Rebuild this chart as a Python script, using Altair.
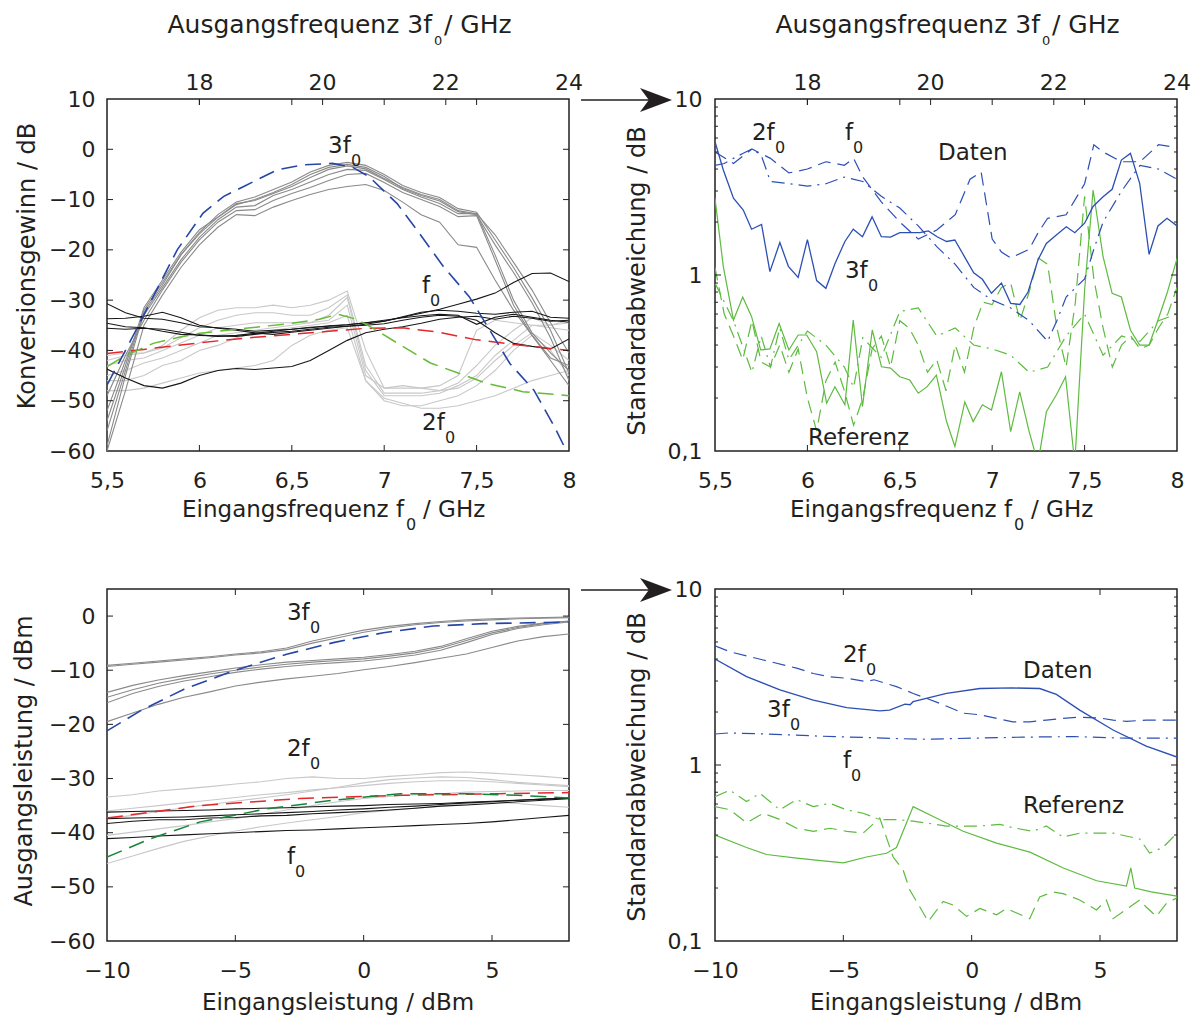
import altair as alt
import pandas as pd

FONT = "DejaVu Sans"
INK = "#231f20"
BLUE = "#2646a6"
BLUE_R = "#2c4fb4"
RED = "#e5262b"
GREEN = "#66bb38"
GREEN_R = "#5dbb3f"
DKGREEN = "#17843b"
MIDGRAY = "#8a8a8a"
LTGRAY = "#c8c8c8"
BLACK = "#161616"

W, H = 462, 352

# ---------------- axis ticks ----------------
f0_ticks = [5.5, 6, 6.5, 7, 7.5, 8]
f3_ticks = [18, 20, 22, 24]
gain_ticks = [-60, -50, -40, -30, -20, -10, 0, 10]
pin_ticks = [-10, -5, 0, 5]
pout_ticks = [-60, -50, -40, -30, -20, -10, 0]
std_major = [0.1, 1, 10]
std_minor = [0.2, 0.3, 0.4, 0.5, 0.6, 0.7, 0.8, 0.9, 2, 3, 4, 5, 6, 7, 8, 9]

# ---------------- conversion gain vs. input frequency ----------------
f_grid = [5.5, 5.6, 5.7, 5.8, 5.9, 6.0, 6.1, 6.2, 6.3, 6.4, 6.5, 6.6, 6.7,
          6.8, 6.9, 7.0, 7.1, 7.2, 7.3, 7.4, 7.5, 7.6, 7.7, 7.8, 7.9, 8.0]

gain_3f0_meas = [
    [-59.0, -45.0, -32.5, -27.0, -21.0, -16.5, -13.0, -10.5, -9.5, -8.0, -6.5, -4.5, -3.2,
     -2.6, -3.2, -5.0, -7.2, -8.6, -9.6, -11.8, -12.5, -18.0, -23.5, -29.5, -36.0, -44.5],
    [-56.0, -44.0, -32.0, -26.5, -21.0, -16.8, -13.5, -11.0, -10.0, -8.6, -7.0, -5.0, -3.6,
     -3.0, -3.6, -5.4, -7.8, -9.2, -10.3, -12.4, -13.0, -19.0, -24.5, -30.5, -37.5, -46.0],
    [-52.0, -42.0, -33.0, -27.5, -22.0, -17.5, -14.0, -11.5, -11.2, -9.2, -8.0, -6.5, -5.0,
     -4.0, -4.2, -6.0, -8.0, -9.5, -10.8, -12.8, -12.8, -21.0, -30.0, -36.5, -40.5, -44.0],
    [-49.0, -41.0, -34.0, -28.0, -22.5, -18.0, -14.5, -12.2, -12.0, -10.2, -8.8, -7.6, -6.2,
     -5.0, -4.8, -6.6, -8.6, -10.0, -11.4, -13.4, -13.2, -22.0, -31.0, -37.0, -41.5, -43.0],
    [-60.0, -48.0, -35.0, -29.0, -23.5, -19.0, -15.5, -13.0, -13.2, -11.5, -10.2, -9.0, -8.0,
     -7.4, -7.0, -8.2, -10.5, -13.0, -14.5, -19.0, -19.5, -26.0, -32.0, -37.0, -42.0, -47.0],
    [-54.0, -43.0, -31.5, -26.0, -20.5, -16.0, -13.5, -10.8, -10.2, -8.8, -7.4, -5.6, -4.0,
     -3.3, -3.9, -5.8, -7.6, -9.0, -10.0, -12.2, -12.8, -17.0, -22.5, -28.0, -34.5, -40.5],
]

gain_2f0_meas = [
    [-41.0, -40.5, -40.5, -39.0, -36.0, -33.5, -32.0, -31.5, -31.5, -31.0, -31.5, -31.0, -30.0,
     -28.2, -40.0, -47.5, -47.5, -47.5, -47.0, -45.0, -36.0, -34.0, -34.5, -35.0, -35.0, -34.0],
    [-42.0, -41.0, -40.5, -39.5, -37.5, -35.5, -34.0, -33.0, -32.5, -32.5, -33.0, -33.0, -31.5,
     -29.0, -43.0, -48.5, -48.5, -48.5, -48.0, -46.5, -43.0, -39.0, -36.0, -33.5, -35.0, -34.5],
    [-43.0, -42.0, -41.5, -40.0, -38.5, -37.0, -35.5, -35.0, -34.5, -34.5, -34.5, -34.5, -33.0,
     -29.5, -44.0, -49.0, -49.0, -49.0, -48.5, -47.0, -45.0, -41.0, -38.0, -35.0, -35.5, -36.0],
    [-45.0, -44.0, -42.5, -41.5, -40.0, -38.5, -37.0, -36.5, -36.0, -35.5, -35.0, -34.5, -34.0,
     -31.0, -45.0, -47.5, -47.0, -47.5, -48.0, -47.5, -45.5, -42.0, -39.0, -36.5, -39.0, -42.0],
    [-48.0, -48.0, -47.5, -46.5, -45.5, -44.5, -44.0, -43.5, -43.0, -42.0, -39.0, -37.0, -36.0,
     -35.5, -46.0, -49.5, -50.5, -51.5, -51.5, -51.0, -50.0, -49.0, -47.5, -46.0, -45.0, -44.0],
    [-46.0, -46.0, -45.0, -43.0, -42.0, -40.0, -39.0, -37.5, -36.5, -36.0, -35.5, -35.0, -34.5,
     -33.0, -46.0, -50.0, -51.0, -51.0, -50.0, -49.0, -47.0, -44.0, -40.0, -37.0, -40.0, -45.0],
]

gain_f0_meas = [
    [-30.7, -32.5, -33.6, -33.8, -34.5, -35.3, -35.5, -35.8, -36.2, -36.0, -35.8, -35.4, -35.2,
     -34.9, -34.5, -34.2, -33.3, -32.4, -32.0, -32.2, -32.6, -32.8, -32.4, -32.2, -33.4, -33.6],
    [-33.7, -33.6, -33.2, -32.4, -33.5, -35.0, -35.6, -36.0, -36.5, -36.8, -36.4, -36.0, -35.6,
     -35.2, -34.8, -34.2, -33.4, -32.6, -31.8, -30.8, -29.8, -28.6, -26.5, -24.7, -24.6, -26.3],
    [-35.6, -35.8, -35.6, -35.8, -36.4, -37.0, -37.1, -37.2, -36.8, -36.4, -36.2, -35.8, -35.4,
     -35.2, -35.0, -34.7, -34.0, -33.4, -33.0, -33.2, -34.0, -36.5, -38.6, -39.2, -39.7, -37.7],
    [-34.6, -35.3, -35.5, -36.2, -36.8, -36.9, -37.2, -37.0, -36.6, -36.2, -35.8, -35.5, -35.1,
     -34.9, -34.5, -34.0, -33.5, -33.1, -32.8, -33.0, -34.8, -33.4, -32.8, -33.4, -34.0, -34.4],
    [-43.7, -45.5, -47.0, -47.5, -46.5, -45.0, -44.0, -43.6, -43.8, -43.5, -43.2, -42.0, -40.0,
     -38.0, -36.5, -35.8, -35.3, -34.6, -33.8, -33.4, -33.2, -33.8, -33.2, -33.6, -34.2, -34.0],
]

model_3f0_gain = [(5.5, -46.9), (5.62, -38.6), (5.75, -29.3), (5.88, -20.0), (6.02, -12.7),
                  (6.13, -9.4), (6.24, -7.4), (6.42, -4.1), (6.56, -3.1), (6.72, -2.8),
                  (6.83, -3.6), (6.92, -5.5), (7.07, -10.8), (7.19, -16.7), (7.32, -23.3),
                  (7.46, -29.3), (7.57, -35.9), (7.68, -42.6), (7.81, -47.9), (7.92, -55.1),
                  (8.0, -61.0)]
model_f0_gain = [(5.5, -40.6), (5.7, -39.8), (5.9, -38.9), (6.1, -38.1), (6.3, -37.4),
                 (6.5, -36.8), (6.7, -36.2), (6.9, -35.6), (7.1, -35.5), (7.3, -36.4),
                 (7.5, -37.9), (7.7, -38.8), (7.9, -39.6), (8.0, -40.0)]
model_2f0_gain = [(5.5, -43.2), (5.6, -41.0), (5.75, -38.6), (5.9, -37.3), (6.0, -36.6),
                  (6.25, -35.6), (6.5, -34.6), (6.65, -33.8), (6.75, -32.8), (6.85, -33.8),
                  (6.95, -35.8), (7.1, -39.2), (7.25, -42.5), (7.4, -44.5), (7.55, -46.5),
                  (7.75, -48.2), (8.0, -49.0)]

# ---------------- standard deviation vs. input frequency ----------------
std_f_3f0_data = [(5.5, 5.72), (5.545, 3.95), (5.6, 2.73), (5.653, 2.34), (5.698, 1.82),
                  (5.752, 1.94), (5.797, 1.045), (5.851, 1.53), (5.897, 1.12), (5.95, 0.97),
                  (6.0, 1.59), (6.05, 0.93), (6.1, 0.84), (6.149, 1.16), (6.203, 1.55),
                  (6.248, 1.82), (6.298, 1.65), (6.35, 2.14), (6.4, 1.65), (6.45, 1.64),
                  (6.5, 1.74), (6.608, 1.74), (6.654, 1.78), (6.702, 1.65), (6.753, 1.55),
                  (6.798, 1.58), (6.852, 1.26), (6.9, 1.03), (6.947, 0.945), (6.996, 0.787),
                  (7.05, 0.90), (7.1, 0.69), (7.15, 0.68), (7.194, 0.80), (7.248, 1.22),
                  (7.293, 1.51), (7.347, 1.69), (7.401, 1.88), (7.447, 1.74), (7.5, 1.97),
                  (7.546, 2.45), (7.6, 2.78), (7.649, 3.07), (7.699, 4.5), (7.748, 4.91),
                  (7.798, 3.32), (7.849, 1.31), (7.897, 1.90), (7.946, 2.10), (8.0, 1.90)]
std_f_2f0_data = [(5.5, 5.0), (5.6, 4.3), (5.7, 5.2), (5.8, 4.6), (5.9, 3.8), (6.0, 4.0),
                  (6.1, 4.4), (6.2, 4.2), (6.25, 4.6), (6.3, 3.6), (6.4, 2.6), (6.5, 2.0),
                  (6.6, 1.6), (6.7, 1.8), (6.8, 2.2), (6.88, 3.5), (6.94, 3.85), (7.0, 1.6),
                  (7.05, 1.35), (7.1, 1.25), (7.2, 1.4), (7.25, 1.75), (7.3, 2.1), (7.4, 2.2),
                  (7.5, 3.3), (7.55, 5.5), (7.6, 5.0), (7.7, 4.4), (7.8, 4.4), (7.9, 5.5),
                  (8.0, 5.3)]
std_f_f0_data = [(5.5, 4.2), (5.55, 4.3), (5.6, 4.6), (5.65, 4.9), (5.7, 5.2), (5.75, 4.8),
                 (5.8, 3.4), (5.9, 3.3), (6.0, 3.2), (6.1, 3.3), (6.2, 3.6), (6.3, 3.4),
                 (6.4, 2.8), (6.5, 2.4), (6.6, 1.9), (6.7, 1.45), (6.8, 1.15), (6.9, 0.85),
                 (7.0, 0.72), (7.1, 0.65), (7.2, 0.55), (7.3, 0.42), (7.35, 0.55), (7.4, 0.75),
                 (7.5, 0.95), (7.55, 1.4), (7.6, 2.0), (7.7, 3.0), (7.8, 4.2), (7.9, 4.0),
                 (8.0, 3.5)]
std_f_3f0_ref = [(5.5, 2.73), (5.545, 1.115), (5.6, 0.555), (5.65, 0.75), (5.698, 0.58),
                 (5.747, 0.375), (5.797, 0.38), (5.847, 0.53), (5.9, 0.375), (5.95, 0.456),
                 (5.996, 0.456), (6.05, 0.367), (6.104, 0.187), (6.149, 0.232), (6.203, 0.183),
                 (6.248, 0.555), (6.298, 0.179), (6.351, 0.487), (6.401, 0.301), (6.45, 0.296),
                 (6.5, 0.264), (6.554, 0.253), (6.6, 0.213), (6.648, 0.232), (6.698, 0.27),
                 (6.753, 0.147), (6.798, 0.106), (6.852, 0.19), (6.897, 0.147), (6.947, 0.183),
                 (6.996, 0.171), (7.05, 0.282), (7.1, 0.129), (7.149, 0.217), (7.2, 0.129),
                 (7.248, 0.085), (7.293, 0.167), (7.347, 0.208), (7.397, 0.264), (7.447, 0.085),
                 (7.5, 0.82), (7.546, 3.04), (7.6, 1.27), (7.649, 0.787), (7.699, 0.75),
                 (7.748, 0.487), (7.798, 0.4), (7.849, 0.4), (7.897, 0.555), (7.946, 0.787),
                 (8.0, 1.24)]
std_f_2f0_ref = [(5.5, 1.1), (5.55, 0.6), (5.6, 0.45), (5.65, 0.33), (5.7, 0.55), (5.75, 0.32),
                 (5.8, 0.3), (5.85, 0.4), (5.9, 0.28), (5.95, 0.38), (6.0, 0.2), (6.05, 0.13),
                 (6.1, 0.25), (6.15, 0.32), (6.2, 0.22), (6.25, 0.14), (6.3, 0.2), (6.35, 0.38),
                 (6.4, 0.45), (6.45, 0.3), (6.5, 0.55), (6.55, 0.5), (6.6, 0.4), (6.65, 0.28),
                 (6.7, 0.33), (6.75, 0.22), (6.8, 0.4), (6.85, 0.28), (6.9, 0.5), (6.95, 0.7),
                 (7.0, 0.68), (7.05, 0.85), (7.1, 0.9), (7.15, 0.55), (7.2, 0.8), (7.25, 1.25),
                 (7.3, 1.15), (7.35, 0.5), (7.4, 0.3), (7.45, 0.7), (7.5, 2.8), (7.55, 0.95),
                 (7.6, 0.5), (7.65, 0.3), (7.7, 0.4), (7.75, 0.45), (7.8, 0.38), (7.85, 0.4),
                 (7.9, 0.5), (7.95, 0.6), (8.0, 0.85)]
std_f_f0_ref = [(5.5, 0.9), (5.6, 0.55), (5.7, 0.28), (5.75, 0.45), (5.8, 0.3), (5.85, 0.5),
                (5.9, 0.33), (6.0, 0.48), (6.1, 0.4), (6.2, 0.3), (6.25, 0.23), (6.3, 0.44),
                (6.4, 0.34), (6.5, 0.62), (6.6, 0.65), (6.7, 0.45), (6.8, 0.5), (6.9, 0.4),
                (7.0, 0.38), (7.1, 0.35), (7.2, 0.28), (7.3, 0.3), (7.4, 0.45), (7.5, 0.6),
                (7.6, 0.35), (7.7, 0.45), (7.8, 0.42), (7.9, 0.55), (8.0, 0.6)]

# ---------------- output power vs. input power ----------------
p_grid = [-10, -9, -8, -7, -6, -5, -4, -3, -2, -1, 0, 1, 2, 3, 4, 5, 6, 7, 8]

pout_3f0_meas = [
    [-9.1, -8.7, -8.3, -7.9, -7.5, -7.0, -6.6, -5.9, -4.6, -3.6, -2.6, -1.9, -1.4, -1.0, -0.7,
     -0.5, -0.35, -0.25, -0.2],
    [-9.3, -8.9, -8.5, -8.1, -7.7, -7.2, -6.8, -6.2, -5.0, -4.0, -3.0, -2.2, -1.6, -1.2, -0.9,
     -0.7, -0.5, -0.4, -0.3],
    [-14.1, -12.8, -11.8, -11.0, -10.3, -9.6, -9.0, -8.5, -8.2, -7.9, -7.6, -7.1, -6.5, -5.6,
     -4.2, -2.8, -1.9, -1.3, -0.9],
    [-15.0, -13.6, -12.4, -11.5, -10.7, -10.0, -9.4, -8.9, -8.5, -8.2, -7.9, -7.4, -6.8, -5.9,
     -4.5, -3.1, -2.1, -1.4, -1.0],
    [-16.0, -14.3, -13.0, -12.0, -11.2, -10.4, -9.8, -9.3, -8.9, -8.6, -8.3, -7.8, -7.2, -6.3,
     -4.9, -3.4, -2.3, -1.6, -1.1],
    [-19.5, -17.9, -16.3, -15.0, -14.0, -12.9, -12.2, -11.6, -11.1, -10.6, -9.9, -9.3, -8.6,
     -7.8, -7.0, -5.8, -4.6, -3.8, -3.3],
]
pout_2f0_meas = [
    [-33.4, -33.0, -32.3, -31.9, -31.5, -31.0, -30.6, -30.0, -29.7, -30.0, -30.0, -29.6, -29.3,
     -28.9, -28.8, -29.0, -29.3, -29.6, -30.0],
    [-37.4, -36.8, -36.1, -35.4, -34.8, -34.2, -33.6, -33.0, -32.3, -31.6, -30.8, -30.2, -29.9,
     -29.7, -29.8, -30.2, -30.7, -31.0, -31.3],
    [-40.5, -39.9, -39.3, -38.7, -38.0, -37.4, -36.6, -35.8, -35.0, -34.3, -33.7, -33.3, -33.0,
     -32.8, -32.5, -32.4, -32.3, -32.2, -32.2],
    [-45.7, -44.3, -42.9, -41.6, -40.6, -39.7, -38.9, -38.2, -37.6, -37.0, -36.3, -35.9, -35.5,
     -35.1, -34.7, -34.4, -34.6, -35.0, -35.3],
    [-36.0, -35.5, -35.0, -34.5, -34.0, -33.5, -33.0, -32.6, -32.1, -31.7, -31.3, -30.9, -30.6,
     -30.4, -30.4, -30.6, -30.9, -31.2, -31.5],
]
pout_f0_meas = [
    [-36.2, -36.1, -36.0, -35.9, -35.8, -35.6, -35.5, -35.4, -35.2, -35.1, -35.0, -34.8, -34.7,
     -34.6, -34.4, -34.2, -34.0, -33.8, -33.6],
    [-37.4, -37.3, -37.2, -37.1, -36.9, -36.7, -36.5, -36.3, -36.1, -35.8, -35.6, -35.3, -35.1,
     -34.8, -34.5, -34.3, -34.0, -33.8, -33.6],
    [-38.3, -37.9, -37.6, -37.6, -37.3, -37.2, -36.9, -36.8, -36.5, -36.3, -36.1, -35.8, -35.5,
     -35.1, -34.9, -34.6, -34.3, -34.0, -33.7],
    [-41.1, -40.9, -40.6, -40.4, -40.2, -40.0, -39.8, -39.6, -39.5, -39.3, -39.1, -38.9, -38.7,
     -38.5, -38.3, -38.0, -37.6, -37.2, -36.8],
]
model_3f0_pout = [(-10, -21.2), (-8.7, -17.5), (-7.0, -13.5), (-5.07, -10.1), (-3.0, -7.05),
                  (-1.18, -4.9), (0.77, -3.07), (2.72, -1.84), (4.66, -1.4), (8, -1.1)]
model_f0_pout = [(-10, -37.3), (-6.4, -35.0), (-2.5, -33.7), (1.4, -33.1), (5.3, -32.8),
                 (8, -32.6)]
model_2f0_pout = [(-10, -44.5), (-8.3, -41.1), (-6.37, -38.0), (-3.77, -35.6), (-1.18, -34.0),
                  (1.42, -32.8), (4.0, -32.8), (6.0, -33.1), (8, -33.6)]

# ---------------- standard deviation vs. input power ----------------
std_p_3f0_data = [(-10, 4.0), (-8.77, 3.18), (-7.47, 2.67), (-6.17, 2.34), (-4.87, 2.12),
                  (-3.58, 2.03), (-3.2, 2.05), (-2.6, 2.22), (-2.4, 2.2), (-2.28, 2.29),
                  (-0.98, 2.55), (0.32, 2.72), (1.61, 2.74), (2.65, 2.72), (3.3, 2.52),
                  (4.21, 2.05), (5.51, 1.58), (6.8, 1.28), (8, 1.11)]
std_p_2f0_data = [(-10, 4.75), (-9.42, 4.4), (-8.12, 3.95), (-6.82, 3.55), (-6.17, 3.31),
                  (-5.52, 3.17), (-4.87, 3.11), (-4.1, 2.98), (-3.8, 3.05), (-3.58, 2.98),
                  (-2.93, 2.79), (-2.28, 2.55), (-1.24, 2.24), (-0.33, 1.97), (0.32, 1.93),
                  (1.6, 1.76), (2.26, 1.76), (2.91, 1.8), (3.56, 1.84), (4.21, 1.87),
                  (4.99, 1.85), (5.51, 1.8), (6.03, 1.77), (6.8, 1.8), (8, 1.8)]
std_p_f0_data = [(-10, 1.5), (-9.5, 1.52), (-8.0, 1.5), (-6.0, 1.46), (-4.0, 1.43),
                 (-2.0, 1.40), (0, 1.42), (2, 1.44), (4, 1.45), (6, 1.42), (8, 1.42)]
std_p_3f0_ref = [(-10, 0.4), (-8.77, 0.34), (-7.99, 0.31), (-6.82, 0.296), (-5.78, 0.285),
                 (-5.0, 0.278), (-4.1, 0.30), (-3.32, 0.315), (-2.93, 0.34), (-2.28, 0.58),
                 (-1.5, 0.51), (-0.33, 0.42), (0.97, 0.36), (2.27, 0.32), (3.57, 0.26),
                 (4.87, 0.22), (6.03, 0.205), (6.2, 0.26), (6.35, 0.2), (7.0, 0.19), (8, 0.18)]
std_p_2f0_ref = [(-10, 0.58), (-9.42, 0.557), (-8.77, 0.47), (-8.12, 0.532), (-7.47, 0.49),
                 (-6.82, 0.437), (-6.17, 0.42), (-5.52, 0.437), (-4.87, 0.42), (-4.23, 0.41),
                 (-3.58, 0.50), (-3.06, 0.30), (-2.67, 0.253), (-2.41, 0.195), (-2.02, 0.156),
                 (-1.69, 0.129), (-1.11, 0.168), (-0.72, 0.16), (-0.2, 0.138), (0.32, 0.153),
                 (0.97, 0.141), (1.35, 0.153), (2.26, 0.134), (2.65, 0.178), (3.17, 0.19),
                 (3.56, 0.186), (4.21, 0.171), (4.86, 0.15), (5.25, 0.171), (5.51, 0.134),
                 (6.16, 0.156), (6.55, 0.171), (6.8, 0.156), (7.19, 0.138), (7.58, 0.163),
                 (8.0, 0.176)]
std_p_f0_ref = [(-10, 0.66), (-9.42, 0.72), (-8.77, 0.62), (-8.25, 0.69), (-7.47, 0.556),
                (-6.82, 0.636), (-6.17, 0.58), (-5.52, 0.606), (-4.87, 0.556), (-4.23, 0.532),
                (-3.58, 0.49), (-2.93, 0.49), (-2.28, 0.48), (-0.98, 0.45), (0.32, 0.45),
                (1.1, 0.46), (1.61, 0.44), (2.39, 0.42), (2.91, 0.45), (3.56, 0.39),
                (4.21, 0.41), (4.86, 0.41), (5.51, 0.41), (6.55, 0.38), (6.93, 0.316),
                (7.45, 0.34), (8.0, 0.41)]

# ---------------- curve annotations (main text, subscript, x, y) ----------------
gain_labels = [("3f", "0", 6.696, -0.74), ("f", "0", 7.205, -28.6), ("2f", "0", 7.205, -55.8)]
std_f_labels = [("2f", "0", 5.70, 5.85), ("f", "0", 6.203, 5.85), ("3f", "0", 6.203, 0.962),
                ("Daten", "", 6.707, 4.5), ("Referenz", "", 6.003, 0.108)]
pout_labels = [("3f", "0", -2.99, -0.71), ("2f", "0", -2.99, -25.9), ("f", "0", -2.99, -45.8)]
std_p_labels = [("2f", "0", -5.01, 3.84), ("3f", "0", -7.97, 1.875), ("f", "0", -5.01, 0.962),
                ("Daten", "", 2.0, 3.12), ("Referenz", "", 2.0, 0.533)]

# ---------------- helpers ----------------
NUM_LABEL = "replace(replace(format(datum.value, '~g'), '.', ','), '-', '\u2212')"
LOG_LABEL = "datum.value < 0.5 ? '0,1' : (datum.value < 5 ? '1' : '10')"
DASH = [16, 8]
DASH_R = [13, 7]
DASHDOT_R = [13, 6, 2, 6]


def grid_df(xs, curves):
    rows = []
    for i, c in enumerate(curves):
        for x, y in zip(xs, c):
            rows.append({"x": x, "y": y, "c": i})
    return pd.DataFrame(rows)


def pairs_df(pairs):
    return pd.DataFrame({"x": [p[0] for p in pairs], "y": [p[1] for p in pairs], "c": 0})


def lines(df, X, Y, color, width=1.1, dash=None):
    kw = dict(color=color, strokeWidth=width, clip=True)
    if dash:
        kw["strokeDash"] = dash
    return alt.Chart(df).mark_line(**kw).encode(x=X, y=Y, detail="c:N", order="x:Q")


def x_ticks(vals, X, y0, y1):
    return alt.Chart(pd.DataFrame({"x": vals})).mark_rule(color=INK, strokeWidth=1).encode(
        x=X, y=alt.value(y0), y2=alt.value(y1))


def y_ticks(vals, Y, x0, x1):
    return alt.Chart(pd.DataFrame({"y": vals})).mark_rule(color=INK, strokeWidth=1).encode(
        y=Y, x=alt.value(x0), x2=alt.value(x1))


def px_text(text, x, y, size=23, align="left", angle=0):
    kw = dict(font=FONT, fontSize=size, align=align, baseline="alphabetic", color=INK)
    if angle:
        kw["angle"] = angle
    return alt.Chart(pd.DataFrame({"t": [text]})).mark_text(**kw).encode(
        x=alt.value(x), y=alt.value(y), text="t:N")


def curve_labels(labels, X, Y):
    out = []
    for main, sub, x, y in labels:
        df = pd.DataFrame({"x": [x], "y": [y], "m": [main], "s": [sub]})
        out.append(alt.Chart(df).mark_text(font=FONT, fontSize=23, align="left",
                                           baseline="alphabetic", color=INK)
                   .encode(x=X, y=Y, text="m:N"))
        if sub:
            shift = 23 if len(main) > 1 else 8
            out.append(alt.Chart(df).mark_text(font=FONT, fontSize=16, align="left",
                                               baseline="alphabetic", color=INK,
                                               dx=shift, dy=13)
                       .encode(x=X, y=Y, text="s:N"))
    return out


def top_title():
    return [px_text("Ausgangsfrequenz 3f", 325, -66, 25, "right"),
            px_text("0", 327, -54, 13),
            px_text("/ GHz", 337, -66, 25)]


def f0_title():
    return [px_text("Eingangsfrequenz f", 297, 418, 23, "right"),
            px_text("0", 299, 431, 16),
            px_text("/ GHz", 316, 418, 23)]


def top_axis_labels(X):
    df = pd.DataFrame({"x": [v / 3 for v in f3_ticks], "t": [str(v) for v in f3_ticks]})
    return alt.Chart(df).mark_text(font=FONT, fontSize=22, align="center",
                                   baseline="alphabetic", color=INK).encode(
        x=X, y=alt.value(-9), text="t:N")


def arrow():
    line = alt.Chart(pd.DataFrame({"a": [0]})).mark_rule(color=INK, strokeWidth=1.3).encode(
        x=alt.value(-134), x2=alt.value(-55), y=alt.value(1))
    head = alt.Chart(pd.DataFrame({"a": [0]})).mark_point(
        shape="M 1 0 L -1 -0.75 L -0.45 0 L -1 0.75 Z", size=1024, filled=True,
        color=INK, opacity=1, strokeWidth=0).encode(x=alt.value(-59), y=alt.value(1))
    return [line, head]


def x_axis(vals):
    return alt.Axis(values=vals, labelExpr=NUM_LABEL, labelPadding=19, labelFlush=False,
                    title=None)


# ---------------- encodings ----------------
X_f = alt.X("x:Q", scale=alt.Scale(domain=[5.5, 8], nice=False, zero=False),
            axis=x_axis(f0_ticks))
X_p = alt.X("x:Q", scale=alt.Scale(domain=[-10, 8], nice=False, zero=False),
            axis=x_axis(pin_ticks))
Y_gain = alt.Y("y:Q", scale=alt.Scale(domain=[-60, 10], nice=False, zero=False),
               axis=alt.Axis(values=gain_ticks, labelExpr=NUM_LABEL, labelPadding=12,
                             labelFlush=False, title=None))
Y_pout = alt.Y("y:Q", scale=alt.Scale(domain=[-60, 5], nice=False, zero=False),
               axis=alt.Axis(values=pout_ticks, labelExpr=NUM_LABEL, labelPadding=12,
                             labelFlush=False, title=None))
Y_std = alt.Y("y:Q", scale=alt.Scale(type="log", domain=[0.1, 10], nice=False),
              axis=alt.Axis(values=std_major, labelExpr=LOG_LABEL, labelPadding=13,
                            labelFlush=False, title=None))

TL = 6   # inward tick length
TM = 3   # minor tick length

# ---------------- panel: conversion gain ----------------
gain_layers = [
    lines(grid_df(f_grid, gain_2f0_meas), X_f, Y_gain, LTGRAY),
    lines(grid_df(f_grid, gain_3f0_meas), X_f, Y_gain, MIDGRAY),
    lines(grid_df(f_grid, gain_f0_meas), X_f, Y_gain, BLACK),
    lines(pairs_df(model_f0_gain), X_f, Y_gain, RED, 1.5, DASH),
    lines(pairs_df(model_2f0_gain), X_f, Y_gain, GREEN, 1.5, DASH),
    lines(pairs_df(model_3f0_gain), X_f, Y_gain, BLUE, 1.6, DASH),
    x_ticks(f0_ticks[1:-1], X_f, H, H - TL),
    x_ticks(f0_ticks[1:-1] + [v / 3 for v in f3_ticks[:-1]], X_f, 0, TL),
    y_ticks(gain_ticks[1:-1], Y_gain, 0, TL),
    y_ticks(gain_ticks[1:-1], Y_gain, W, W - TL),
    top_axis_labels(X_f),
    px_text("Konversionsgewinn / dB", -72, 167, 24, "center", 270),
] + top_title() + f0_title() + curve_labels(gain_labels, X_f, Y_gain)
gain_panel = alt.layer(*gain_layers).properties(width=W, height=H)

# ---------------- panel: std. deviation vs. frequency ----------------
std_f_layers = [
    lines(pairs_df(std_f_2f0_ref), X_f, Y_std, GREEN_R, 1.2, DASH_R),
    lines(pairs_df(std_f_f0_ref), X_f, Y_std, GREEN_R, 1.2, DASHDOT_R),
    lines(pairs_df(std_f_3f0_ref), X_f, Y_std, GREEN_R, 1.2),
    lines(pairs_df(std_f_2f0_data), X_f, Y_std, BLUE_R, 1.2, DASH_R),
    lines(pairs_df(std_f_f0_data), X_f, Y_std, BLUE_R, 1.2, DASHDOT_R),
    lines(pairs_df(std_f_3f0_data), X_f, Y_std, BLUE_R, 1.3),
    x_ticks(f0_ticks[1:-1], X_f, H, H - TL),
    x_ticks(f0_ticks[1:-1] + [v / 3 for v in f3_ticks[:-1]], X_f, 0, TL),
    y_ticks([1], Y_std, 0, TL),
    y_ticks([1], Y_std, W, W - TL),
    y_ticks(std_minor, Y_std, 0, TM),
    y_ticks(std_minor, Y_std, W, W - TM),
    top_axis_labels(X_f),
    px_text("Standardabweichung / dB", -70, 182, 24, "center", 270),
] + top_title() + f0_title() + arrow() + curve_labels(std_f_labels, X_f, Y_std)
std_f_panel = alt.layer(*std_f_layers).properties(width=W, height=H)

# ---------------- panel: output power ----------------
pout_layers = [
    lines(grid_df(p_grid, pout_2f0_meas), X_p, Y_pout, LTGRAY),
    lines(grid_df(p_grid, pout_3f0_meas), X_p, Y_pout, MIDGRAY),
    lines(grid_df(p_grid, pout_f0_meas), X_p, Y_pout, BLACK),
    lines(pairs_df(model_f0_pout), X_p, Y_pout, RED, 1.5, DASH),
    lines(pairs_df(model_2f0_pout), X_p, Y_pout, DKGREEN, 1.5, DASH),
    lines(pairs_df(model_3f0_pout), X_p, Y_pout, BLUE, 1.6, DASH),
    x_ticks(pin_ticks[1:], X_p, H, H - TL),
    x_ticks(pin_ticks[1:], X_p, 0, TL),
    y_ticks(pout_ticks[1:], Y_pout, 0, TL),
    y_ticks(pout_ticks[1:], Y_pout, W, W - TL),
    px_text("Ausgangsleistung / dBm", -75, 172, 24, "center", 270),
    px_text("Eingangsleistung / dBm", 231, 421, 23, "center"),
] + curve_labels(pout_labels, X_p, Y_pout)
pout_panel = alt.layer(*pout_layers).properties(width=W, height=H)

# ---------------- panel: std. deviation vs. input power ----------------
std_p_layers = [
    lines(pairs_df(std_p_2f0_ref), X_p, Y_std, GREEN_R, 1.2, DASH_R),
    lines(pairs_df(std_p_f0_ref), X_p, Y_std, GREEN_R, 1.2, DASHDOT_R),
    lines(pairs_df(std_p_3f0_ref), X_p, Y_std, GREEN_R, 1.2),
    lines(pairs_df(std_p_2f0_data), X_p, Y_std, BLUE_R, 1.2, DASH_R),
    lines(pairs_df(std_p_f0_data), X_p, Y_std, BLUE_R, 1.2, DASHDOT_R),
    lines(pairs_df(std_p_3f0_data), X_p, Y_std, BLUE_R, 1.3),
    x_ticks(pin_ticks[1:], X_p, H, H - TL),
    x_ticks(pin_ticks[1:], X_p, 0, TL),
    y_ticks([1], Y_std, 0, TL),
    y_ticks([1], Y_std, W, W - TL),
    y_ticks(std_minor, Y_std, 0, TM),
    y_ticks(std_minor, Y_std, W, W - TM),
    px_text("Standardabweichung / dB", -70, 178, 24, "center", 270),
    px_text("Eingangsleistung / dBm", 231, 421, 23, "center"),
] + arrow() + curve_labels(std_p_labels, X_p, Y_std)
std_p_panel = alt.layer(*std_p_layers).properties(width=W, height=H)

chart = alt.concat(
    gain_panel, std_f_panel, pout_panel, std_p_panel,
    columns=2, spacing={"row": 138, "column": 146}, bounds="flush",
).properties(
    autosize=alt.AutoSizeParams(type="none"),
    padding={"left": 107, "top": 99, "right": 1091, "bottom": 920},
    background="white",
).configure_view(
    stroke=INK, strokeWidth=1.5
).configure_axis(
    labelFont=FONT, labelFontSize=22, labelColor=INK, domain=False, ticks=False,
    tickSize=0, grid=False
)

chart.save("out.html", embed_options={"renderer": "svg", "actions": False})
